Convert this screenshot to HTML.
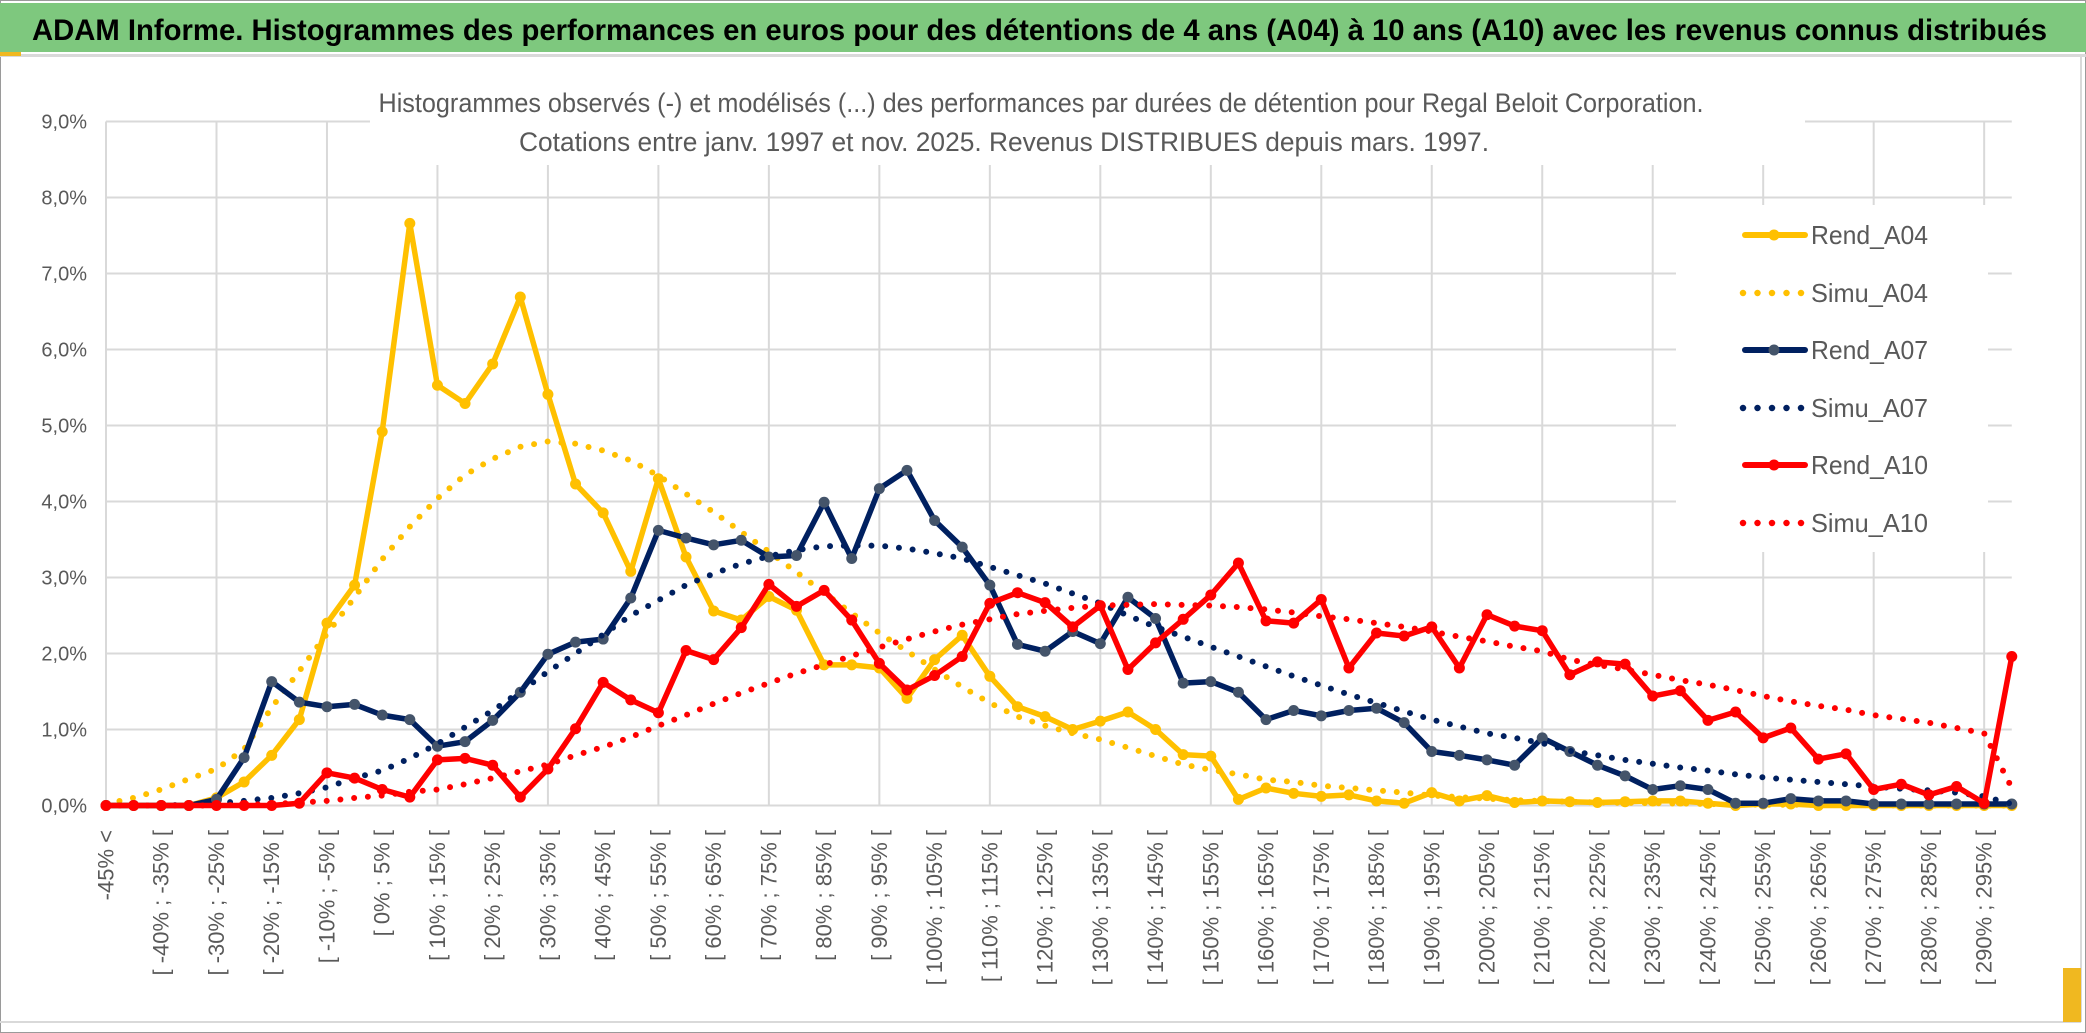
<!DOCTYPE html>
<html><head><meta charset="utf-8"><title>ADAM Informe - Regal Beloit</title>
<style>
html,body{margin:0;padding:0;background:#fff;}
svg{display:block;font-family:"Liberation Sans",sans-serif;}
</style></head>
<body>
<svg id="chart" width="2086" height="1033" viewBox="0 0 2086 1033" xmlns="http://www.w3.org/2000/svg">
  <rect x="0" y="0" width="2086" height="1033" fill="#fff"/>
  <rect x="0.5" y="0.5" width="2085" height="1032" fill="none" stroke="#9a9a9a" stroke-width="1"/>
  <rect x="0" y="3" width="2086" height="49" fill="#7ec87e"/>
  <rect x="0" y="54" width="2086" height="3" fill="#d9d9d9"/>
  <rect x="0" y="52" width="21" height="4" fill="#f0b820"/>
  <text x="32" y="40" font-size="30" font-weight="bold" fill="#000" textLength="2015" lengthAdjust="spacingAndGlyphs">ADAM Informe. Histogrammes des performances en euros pour des détentions de 4 ans (A04) à 10 ans (A10) avec les revenus connus distribués</text>
  <line x1="0" y1="1022" x2="2081" y2="1022" stroke="#d9d9d9" stroke-width="2"/>
  <line x1="2081" y1="57" x2="2081" y2="1022" stroke="#d9d9d9" stroke-width="2"/>
  <rect x="2063" y="968" width="18" height="54" fill="#f0b820"/>
  <g id="grid"></g>
  <g id="series"></g>
  <rect x="370" y="62" width="1435" height="103" fill="#fff"/>
  <text x="1041" y="112" font-size="27" fill="#595959" text-anchor="middle" textLength="1325" lengthAdjust="spacingAndGlyphs">Histogrammes observés (-) et modélisés (...) des performances par durées de détention pour Regal Beloit Corporation.</text>
  <text x="1004" y="151" font-size="27" fill="#595959" text-anchor="middle" textLength="970" lengthAdjust="spacingAndGlyphs">Cotations entre janv. 1997 et nov. 2025. Revenus DISTRIBUES depuis mars. 1997.</text>
  <g id="yaxis"></g>
  <g id="xaxis"></g>
  <g id="legend"></g>
</svg>
<script>
const categories = ["-45% <"];
for (let b = -45; b <= 295; b += 5) categories.push("[ " + b + "% ; " + (b + 5) + "% [");
const yTicks = [0, 1, 2, 3, 4, 5, 6, 7, 8, 9];
const yTickLabels = ["0,0%", "1,0%", "2,0%", "3,0%", "4,0%", "5,0%", "6,0%", "7,0%", "8,0%", "9,0%"];
const rendA04 = [0,0,0,0,0.1,0.31,0.66,1.13,2.40,2.9,4.92,7.66,5.53,5.29,5.81,6.69,5.41,4.23,3.85,3.08,4.30,3.27,2.56,2.44,2.75,2.57,1.85,1.85,1.81,1.41,1.92,2.24,1.70,1.30,1.17,1.0,1.11,1.23,1.0,0.67,0.65,0.08,0.23,0.16,0.12,0.14,0.06,0.03,0.17,0.06,0.13,0.04,0.06,0.05,0.04,0.05,0.06,0.06,0.03,0,0.02,0.02,0,0,0,0,0,0,0,0];
const simuA04 = [0.02,0.1,0.21,0.35,0.48,0.74,1.29,1.77,2.26,2.74,3.24,3.67,4.04,4.35,4.56,4.72,4.79,4.76,4.67,4.54,4.34,4.10,3.86,3.6,3.34,3.07,2.8,2.53,2.27,2.03,1.79,1.56,1.35,1.17,1.05,0.95,0.87,0.76,0.65,0.54,0.47,0.41,0.34,0.31,0.26,0.23,0.2,0.17,0.13,0.11,0.09,0.07,0.06,0.05,0.04,0.035,0.03,0.025,0.02,0.015,0.01,0.01,0.01,0.005,0.005,0,0,0,0,0];
const rendA07 = [0,0,0,0,0.08,0.63,1.63,1.36,1.3,1.33,1.19,1.13,0.78,0.84,1.12,1.49,1.99,2.15,2.19,2.73,3.62,3.52,3.43,3.49,3.27,3.29,3.99,3.25,4.17,4.41,3.75,3.40,2.9,2.12,2.03,2.29,2.13,2.74,2.46,1.61,1.63,1.49,1.13,1.25,1.18,1.25,1.28,1.09,0.71,0.66,0.6,0.53,0.89,0.71,0.53,0.39,0.21,0.26,0.21,0.03,0.03,0.09,0.06,0.06,0.02,0.02,0.02,0.02,0.02,0.02];
const simuA07 = [0,0,0,0.01,0.03,0.06,0.1,0.16,0.24,0.36,0.46,0.62,0.81,1.03,1.25,1.5,1.76,2.0,2.25,2.5,2.7,2.9,3.05,3.18,3.28,3.36,3.41,3.42,3.42,3.38,3.32,3.25,3.14,3.03,2.92,2.79,2.66,2.5,2.35,2.22,2.09,1.96,1.83,1.70,1.58,1.46,1.35,1.24,1.13,1.04,0.95,0.89,0.82,0.72,0.66,0.6,0.55,0.5,0.46,0.41,0.37,0.34,0.31,0.28,0.25,0.22,0.2,0.17,0.12,0.02];
const rendA10 = [0,0,0,0,0,0,0,0.03,0.43,0.36,0.21,0.11,0.6,0.62,0.53,0.11,0.48,1.01,1.62,1.39,1.22,2.04,1.92,2.34,2.91,2.62,2.83,2.44,1.87,1.52,1.71,1.96,2.66,2.80,2.67,2.35,2.63,1.79,2.14,2.45,2.77,3.19,2.43,2.40,2.71,1.81,2.27,2.23,2.35,1.81,2.51,2.36,2.3,1.72,1.89,1.86,1.44,1.51,1.12,1.23,0.89,1.02,0.61,0.68,0.21,0.28,0.14,0.25,0.03,1.96];
const simuA10 = [0,0,0,0,0,0.01,0.02,0.04,0.06,0.1,0.13,0.18,0.21,0.28,0.36,0.45,0.54,0.66,0.77,0.9,1.05,1.19,1.34,1.48,1.61,1.74,1.85,1.97,2.08,2.19,2.29,2.38,2.45,2.52,2.56,2.6,2.63,2.64,2.65,2.64,2.63,2.61,2.58,2.54,2.49,2.45,2.4,2.35,2.29,2.22,2.16,2.09,2.03,1.92,1.85,1.79,1.72,1.65,1.59,1.52,1.44,1.37,1.31,1.26,1.19,1.14,1.09,1.02,0.95,0.23];

const NS = "http://www.w3.org/2000/svg";
const X0 = 106, DX = 27.62, Y0 = 805.5, DY = 76;
function xs(i) { return X0 + i * DX; }
function ys(v) { return Y0 - v * DY; }
function mk(tag, attrs, parent) {
  const e = document.createElementNS(NS, tag);
  for (const k in attrs) e.setAttribute(k, attrs[k]);
  parent.appendChild(e);
  return e;
}
const grid = document.getElementById("grid");
const xMaxI = categories.length - 1;
yTicks.forEach(function (t) {
  const l = mk("line", {x1: X0, x2: xs(xMaxI), y1: ys(t), y2: ys(t), stroke: "#d9d9d9", "stroke-width": 2}, grid);
  
  
});
for (let i = 0; i < categories.length; i += 4) {
  const l = mk("line", {x1: xs(i), x2: xs(i), y1: ys(9), y2: Y0, stroke: "#d9d9d9", "stroke-width": 2}, grid);
  
  
}
const yaxis = document.getElementById("yaxis");
yTicks.forEach(function (t, k) {
  const tx = mk("text", {x: 87, y: ys(t) + 7, "font-size": 20, fill: "#595959", "text-anchor": "end"}, yaxis);
  tx.textContent = yTickLabels[k];
  
  
});
const xaxis = document.getElementById("xaxis");
categories.forEach(function (c, i) {
  if (i % 2 !== 0) return;
  const x = xs(i);
  const tx = mk("text", {x: x, y: 830, "font-size": 22, fill: "#595959", "text-anchor": "end", "dominant-baseline": "central", transform: "rotate(-90 " + x + " 830)"}, xaxis);
  tx.textContent = c;
  
  
});
const seriesG = document.getElementById("series");
function ptsOf(arr) { return arr.map(function (v, i) { return xs(i).toFixed(1) + "," + ys(v).toFixed(1); }).join(" "); }
function drawRend(arr, color, markerColor, name) {
  const g = mk("g", {}, seriesG);
  
  
  const pl = mk("polyline", {points: ptsOf(arr), fill: "none", stroke: color, "stroke-width": 5.5, "stroke-linejoin": "round", "stroke-linecap": "round"}, g);
  
  
  arr.forEach(function (v, i) {
    const c = mk("circle", {cx: xs(i), cy: ys(v), r: 5.5, fill: markerColor}, g);
    
    
  });
}
function drawSimu(arr, color, name) {
  const pl = mk("polyline", {points: ptsOf(arr), fill: "none", stroke: color, "stroke-width": 6, "stroke-linecap": "round", "stroke-dasharray": "0 13.8", "stroke-linejoin": "round"}, seriesG);
  
  
}
drawRend(rendA04, "#ffc000", "#ffc000", "rend-a04");
drawSimu(simuA04, "#ffc000", "simu-a04");
drawRend(rendA07, "#002060", "#44546a", "rend-a07");
drawSimu(simuA07, "#002060", "simu-a07");
drawRend(rendA10, "#ff0000", "#ff0000", "rend-a10");
drawSimu(simuA10, "#ff0000", "simu-a10");

const legend = document.getElementById("legend");
const lbg = mk("rect", {x: 1676, y: 205, width: 312, height: 347, fill: "#fff"}, legend);


const legendNames = ["Rend_A04", "Simu_A04", "Rend_A07", "Simu_A07", "Rend_A10", "Simu_A10"];
const legendColors = ["#ffc000", "#ffc000", "#002060", "#002060", "#ff0000", "#ff0000"];
const legendMarkers = ["#ffc000", null, "#44546a", null, "#ff0000", null];
const legendY = [235, 293, 350, 408, 465, 523];
legendNames.forEach(function (n, k) {
  const y = legendY[k];
  const g = mk("g", {}, legend);
  
  
  if (legendMarkers[k]) {
    mk("line", {x1: 1745, x2: 1805, y1: y, y2: y, stroke: legendColors[k], "stroke-width": 6, "stroke-linecap": "round"}, g);
    mk("circle", {cx: 1774, cy: y, r: 5.5, fill: legendMarkers[k]}, g);
  } else {
    mk("line", {x1: 1743, x2: 1806, y1: y, y2: y, stroke: legendColors[k], "stroke-width": 6.5, "stroke-linecap": "round", "stroke-dasharray": "0 14.5"}, g);
  }
  const t = mk("text", {x: 1811, y: y + 9, "font-size": 26, fill: "#595959", textLength: 117, lengthAdjust: "spacingAndGlyphs"}, g);
  t.textContent = n;
  
  
});
</script>
</body></html>
